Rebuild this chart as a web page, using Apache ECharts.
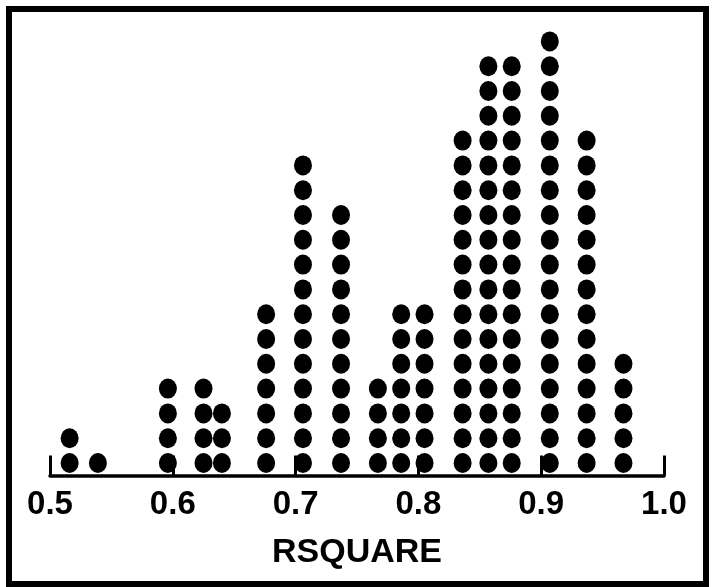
<!DOCTYPE html>
<html>
<head>
<meta charset="utf-8">
<title>RSQUARE dot plot</title>
<script src="https://cdn.jsdelivr.net/npm/echarts@6/dist/echarts.min.js"></script>
<style>
  html, body { margin: 0; padding: 0; background: #fff; }
  #chart { width: 712px; height: 587px; }
</style>
</head>
<body>
<div id="chart"></div>
<script>
// bin positions (RSQUARE) and number of observations in each bin
const binValues = [0.516, 0.539, 0.596, 0.625, 0.640, 0.676, 0.706, 0.737, 0.767, 0.786, 0.805, 0.836, 0.857, 0.876, 0.907, 0.937, 0.967]
const binCounts = [2, 1, 4, 4, 3, 7, 13, 11, 4, 7, 7, 14, 17, 17, 18, 14, 5]
const tickLabels = ['0.5', '0.6', '0.7', '0.8', '0.9', '1.0']

// one dot per observation, stacked upward in its bin
const dots = []
binValues.forEach((x, i) => {
  for (let k = 1; k <= binCounts[i]; k++) dots.push([x, k])
})

const font = "'Liberation Sans', Arial, Helvetica, sans-serif"
const chart = echarts.init(document.getElementById('chart'))

const option = {
  animation: false,
  backgroundColor: '#fff',
  graphic: [
    {
      type: 'rect',
      shape: { x: 9, y: 9, width: 697, height: 575 },
      style: { fill: 'none', stroke: '#000', lineWidth: 6 },
      silent: true
    }
  ],
  grid: {
    left: 50,
    right: 48,
    top: 16.6,
    bottom: 111.6,
    outerBoundsMode: 'none'
  },
  xAxis: {
    type: 'value',
    min: 0.5,
    max: 1.0,
    interval: 0.1,
    name: 'RSQUARE',
    nameLocation: 'middle',
    nameGap: 60,
    nameTextStyle: { color: '#000', fontSize: 34, fontWeight: 'bold', fontFamily: font },
    axisLine: { lineStyle: { color: '#000', width: 3.5 } },
    axisTick: { inside: true, length: 20, lineStyle: { color: '#000', width: 3 } },
    axisLabel: {
      margin: 13,
      color: '#000',
      fontSize: 33,
      fontWeight: 'bold',
      fontFamily: font,
      showMinLabel: true,
      showMaxLabel: true,
      formatter: (v) => tickLabels[Math.round((v - 0.5) * 10)] ?? v.toFixed(1)
    },
    splitLine: { show: false }
  },
  yAxis: {
    type: 'value',
    min: 0.5,
    max: 19,
    show: false,
    splitLine: { show: false }
  },
  series: [
    {
      type: 'scatter',
      data: dots,
      symbol: 'circle',
      symbolSize: [18, 20],
      itemStyle: { color: '#000', opacity: 1 },
      emphasis: { disabled: true }
    }
  ]
}

chart.setOption(option)
</script>
</body>
</html>
